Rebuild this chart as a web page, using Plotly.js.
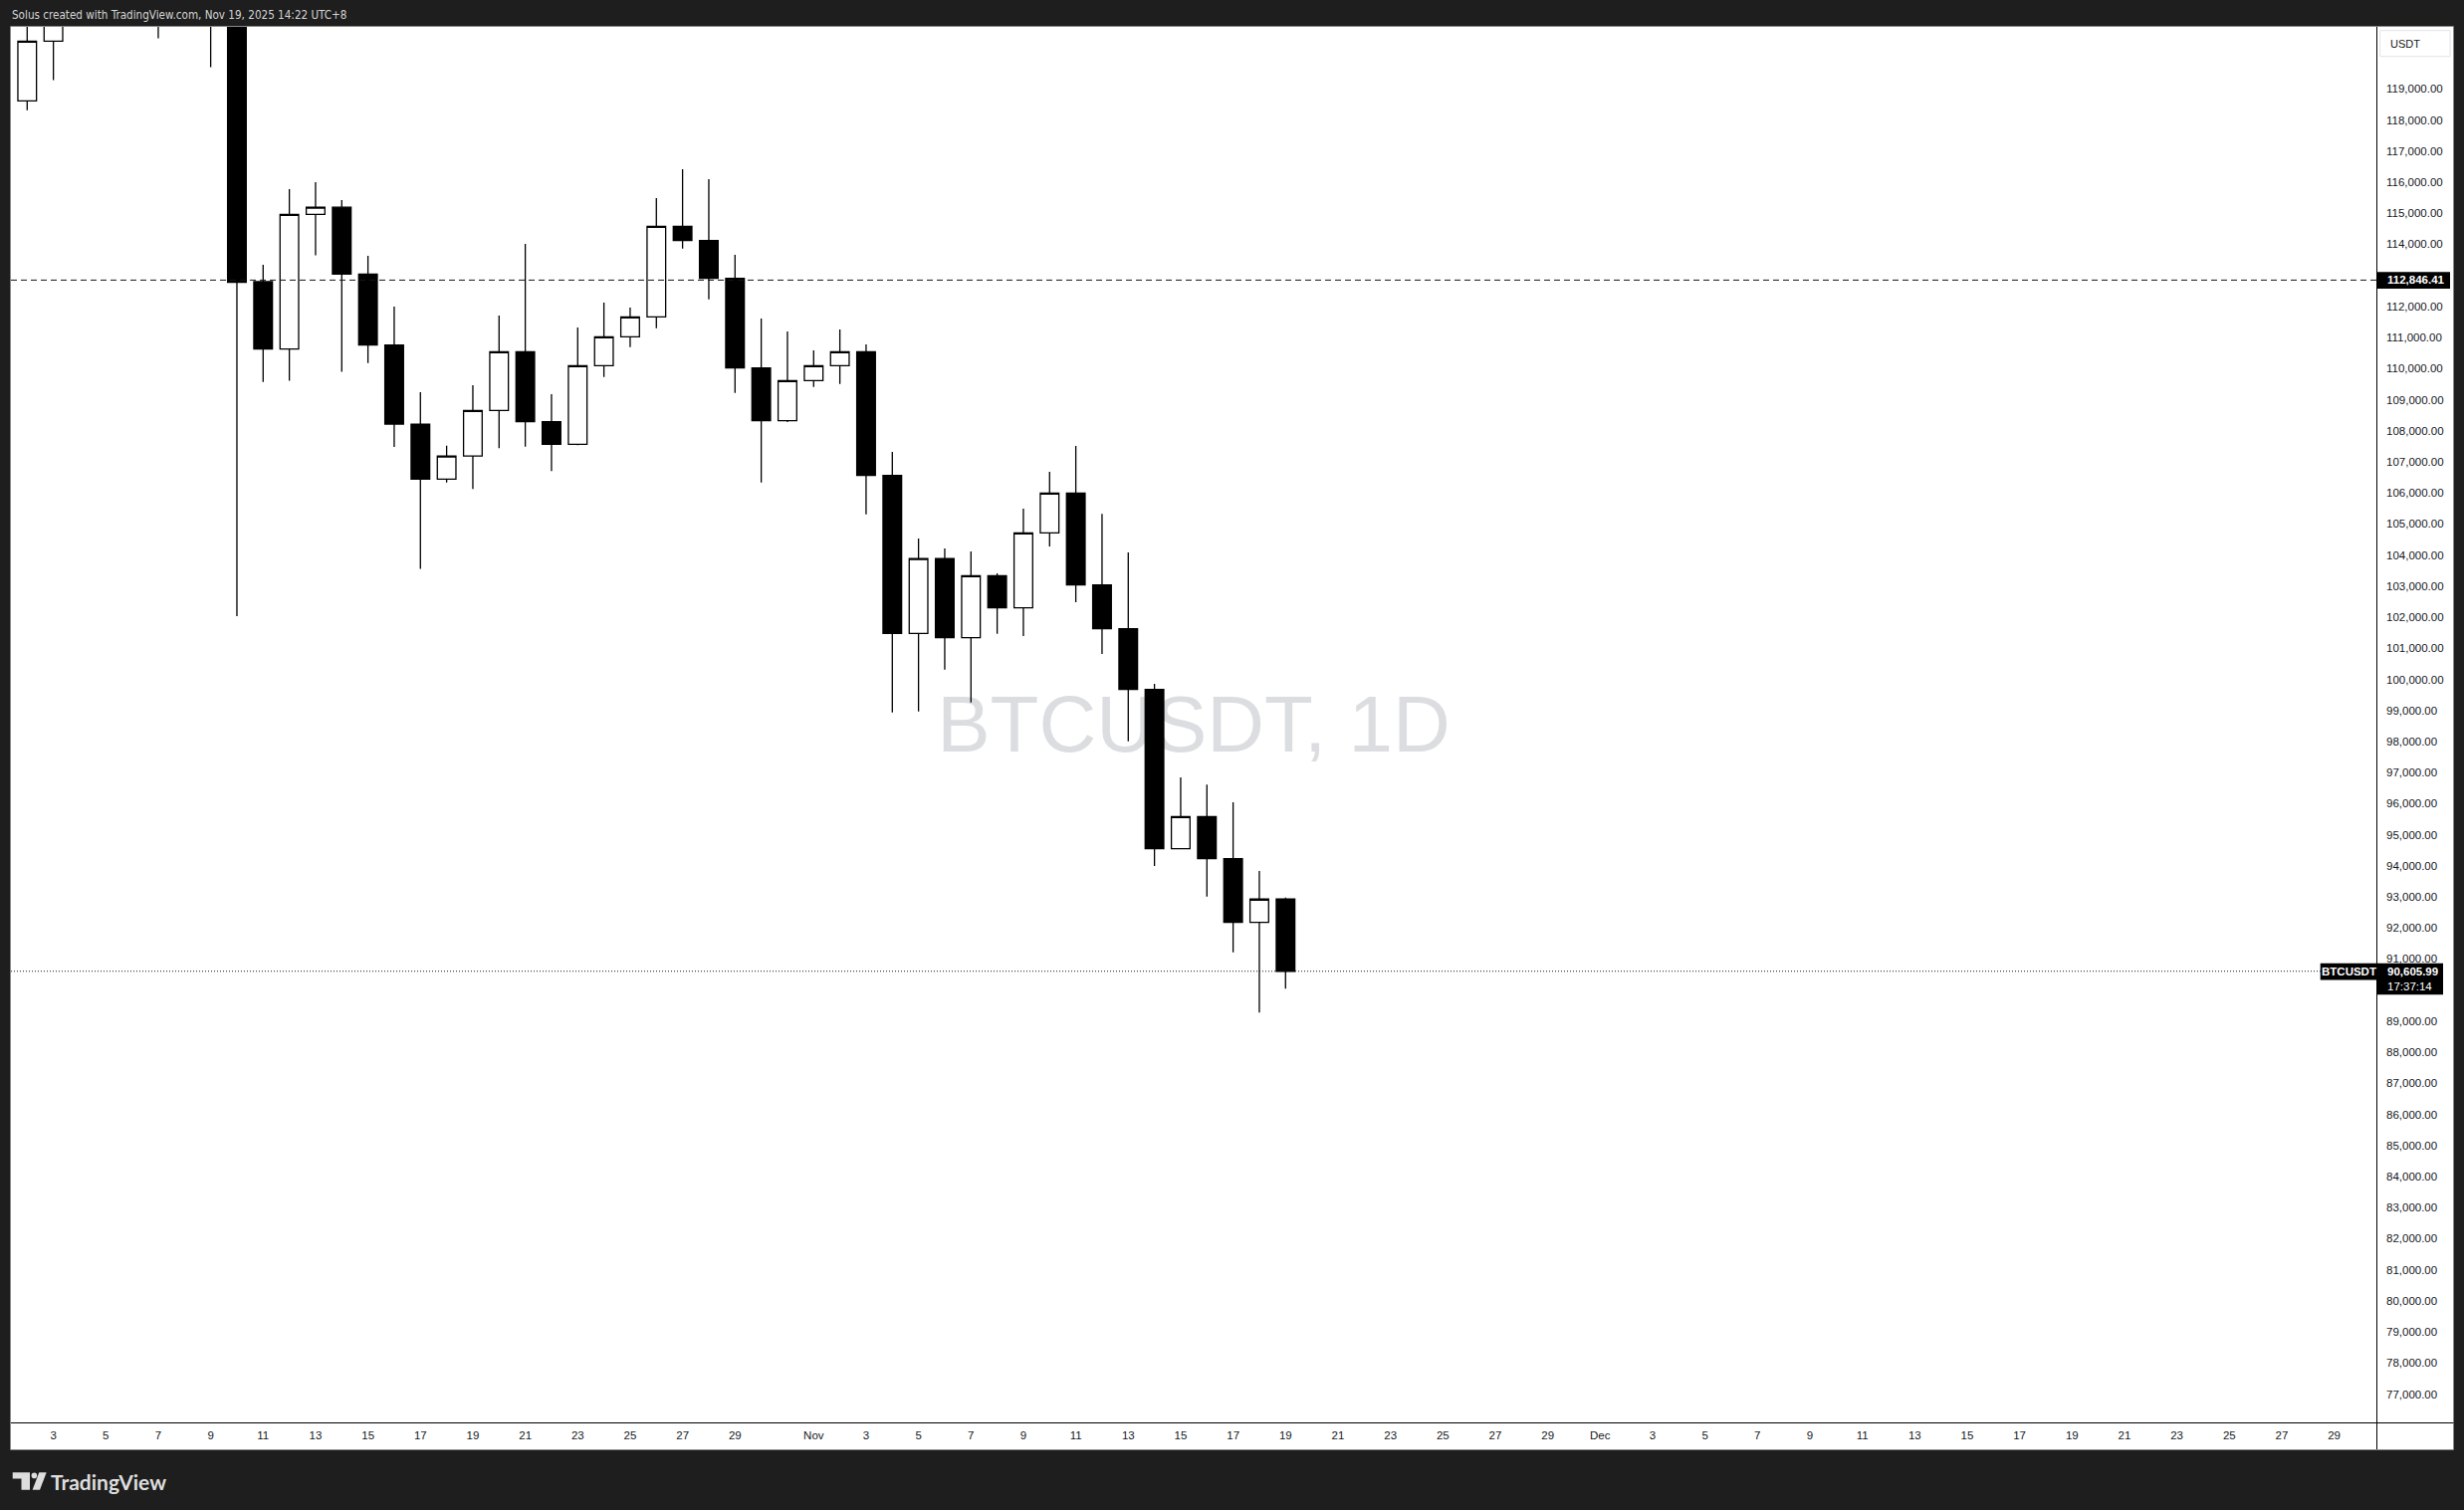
<!DOCTYPE html>
<html>
<head>
<meta charset="utf-8">
<script src="https://cdn.plot.ly/plotly-3.0.1.min.js"></script>
<style>
html,body{margin:0;padding:0;background:#1e1e1e;overflow:hidden;}
#chart{width:2475px;height:1517px;}
</style>
</head>
<body>
<div id="chart"></div>
<script>
// ---------- data (BTCUSDT, 1D) ----------
const dates = ['2025-10-02','2025-10-03','2025-10-04','2025-10-05','2025-10-06','2025-10-07','2025-10-08','2025-10-09','2025-10-10','2025-10-11','2025-10-12','2025-10-13','2025-10-14','2025-10-15','2025-10-16','2025-10-17','2025-10-18','2025-10-19','2025-10-20','2025-10-21','2025-10-22','2025-10-23','2025-10-24','2025-10-25','2025-10-26','2025-10-27','2025-10-28','2025-10-29','2025-10-30','2025-10-31','2025-11-01','2025-11-02','2025-11-03','2025-11-04','2025-11-05','2025-11-06','2025-11-07','2025-11-08','2025-11-09','2025-11-10','2025-11-11','2025-11-12','2025-11-13','2025-11-14','2025-11-15','2025-11-16','2025-11-17','2025-11-18','2025-11-19'];
const openP  = [118611,120533,122232,122391,123482,124658,121332,123306,121662,112795,110630,114963,115191,113038,110758,108211,106440,107186,108653,110543,108289,107564,110095,111023,111664,114579,114118,112901,110018,108321,109614,110095,110543,106559,101479,103890,101338,103337,102299,104714,105995,103035,101626,99672,94548,95584,94227,92177,92928];
const highP  = [121022,123894,122800,125708,126199,125126,124197,123762,122550,113339,115774,115999,115418,113631,111997,109236,107516,109467,111706,114012,109175,111322,112122,111962,115485,116414,116094,113660,111610,111193,110585,111257,110777,107318,104531,104211,104115,103411,105492,106677,107510,105322,104083,99855,96844,96610,96043,93833,92978];
const lowP   = [118310,119281,121500,122000,123084,120623,121066,119700,102033,109566,109605,113644,109896,110175,107478,103551,106337,106123,107439,107487,106700,107532,109730,110691,111299,113862,112228,109217,106335,108279,109409,109506,105310,98936,98968,100313,99255,101466,101392,104275,102481,100815,98007,93993,94530,93010,91216,89275,90044];
const closeP = [120533,122232,122391,123482,124658,121332,123306,121662,112772,110630,114963,115191,113038,110758,108211,106440,107186,108653,110543,108289,107564,110095,111023,111664,114579,114118,112901,110018,108321,109614,110095,110543,106559,101479,103890,101338,103337,102299,104714,105995,103035,101626,99672,94548,95584,94227,92177,92928,90606];

const tickDates = ['2025-10-03','2025-10-05','2025-10-07','2025-10-09','2025-10-11','2025-10-13','2025-10-15','2025-10-17','2025-10-19','2025-10-21','2025-10-23','2025-10-25','2025-10-27','2025-10-29','2025-11-01','2025-11-03','2025-11-05','2025-11-07','2025-11-09','2025-11-11','2025-11-13','2025-11-15','2025-11-17','2025-11-19','2025-11-21','2025-11-23','2025-11-25','2025-11-27','2025-11-29','2025-12-01','2025-12-03','2025-12-05','2025-12-07','2025-12-09','2025-12-11','2025-12-13','2025-12-15','2025-12-17','2025-12-19','2025-12-21','2025-12-23','2025-12-25','2025-12-27','2025-12-29'];
const tickLabels = ['3','5','7','9','11','13','15','17','19','21','23','25','27','29','Nov','3','5','7','9','11','13','15','17','19','21','23','25','27','29','Dec','3','5','7','9','11','13','15','17','19','21','23','25','27','29'];

// price-scale labels (those hidden behind the price tags / currency box are left out)
const priceTicks = [77000,78000,79000,80000,81000,82000,83000,84000,85000,86000,87000,88000,89000,91000,92000,93000,94000,95000,96000,97000,98000,99000,100000,101000,102000,103000,104000,105000,106000,107000,108000,109000,110000,111000,112000,114000,115000,116000,117000,118000,119000];

const markedPrice = 112846.41;
const lastPrice = 90605.99;
const lastPriceText = '90,605.99';
const markedPriceText = '112,846.41';
const countdownText = '17:37:14';
const symbolText = 'BTCUSDT';
const watermarkText = 'BTCUSDT, 1D';
const currencyText = 'USDT';
const headerText = 'Solus created with TradingView.com, Nov 19, 2025 14:22 UTC+8';

// ---------- geometry helpers (decoration only) ----------
const W = 2475, H = 1517;
const L = 11, R = 2387, T = 27, B = 1429;
const px = x => (x - L) / (R - L);
const py = y => (B - y) / (B - T);
const pt = (x, y) => px(x) + ',' + py(y);

const FONT = 'Liberation Sans, Arial, sans-serif';
const DARK = '#131722';
const LOGO = '#dedede';

const trace = {
  type: 'candlestick',
  x: dates, open: openP, high: highP, low: lowP, close: closeP,
  increasing: {line: {color: '#000000', width: 1.3}, fillcolor: '#ffffff'},
  decreasing: {line: {color: '#000000', width: 1.3}, fillcolor: '#000000'},
  whiskerwidth: 0,
  hoverinfo: 'skip',
  showlegend: false
};

const shapes = [
  // white axis panes
  {type:'rect', xref:'paper', yref:'paper', x0:1, x1:px(2464.5), y0:py(1456), y1:py(27), fillcolor:'#ffffff', line:{width:0}, layer:'below'},
  {type:'rect', xref:'paper', yref:'paper', x0:0, x1:px(2464.5), y0:py(1456), y1:py(1429), fillcolor:'#ffffff', line:{width:0}, layer:'below'},
  // grey frame
  {type:'rect', xref:'paper', yref:'paper', x0:px(10.5), x1:px(2464.5), y0:py(1456.5), y1:py(26.5), fillcolor:'rgba(0,0,0,0)', line:{width:1, color:'#8a8a8a'}, layer:'below'},
  // watermark
  {type:'rect', xref:'paper', yref:'paper', x0:0, x1:1, y0:py(1411), y1:py(27), fillcolor:'rgba(0,0,0,0)', line:{width:0}, layer:'below',
   label:{text: watermarkText, textposition:'middle center', font:{family: FONT, size: 80, color:'#dcdde0'}}},
  // separators
  {type:'line', xref:'paper', yref:'paper', x0:px(2387.5), x1:px(2387.5), y0:py(1456), y1:py(27), line:{color:'#000000', width:1}, layer:'above'},
  {type:'line', xref:'paper', yref:'paper', x0:0, x1:px(2464.5), y0:py(1429.5), y1:py(1429.5), line:{color:'#000000', width:1}, layer:'above'},
  // price lines
  {type:'line', xref:'paper', yref:'y', x0:0, x1:1, y0:markedPrice, y1:markedPrice, line:{color:DARK, width:1, dash:'6px,4px'}, layer:'above'},
  {type:'line', xref:'paper', yref:'y', x0:0, x1:px(2331), y0:lastPrice, y1:lastPrice, line:{color:DARK, width:1, dash:'1px,2px'}, layer:'above'},
  // price tags
  {type:'rect', xref:'paper', yref:'y', ysizemode:'pixel', yanchor:markedPrice, x0:1, x1:px(2461), y0:-8.6, y1:8.2, fillcolor:'#000000', line:{width:0}, layer:'above'},
  {type:'rect', xref:'paper', yref:'y', ysizemode:'pixel', yanchor:lastPrice, x0:1, x1:px(2454), y0:-23.4, y1:8.1, fillcolor:'#000000', line:{width:0}, layer:'above'},
  {type:'rect', xref:'paper', yref:'y', ysizemode:'pixel', yanchor:lastPrice, x0:px(2330.7), x1:1, y0:-8.8, y1:8.1, fillcolor:'#000000', line:{width:0}, layer:'above'},
  // currency box
  {type:'rect', xref:'paper', yref:'paper', x0:px(2390.7), x1:px(2461), y0:py(56.7), y1:py(30.7), fillcolor:'#ffffff', line:{width:1, color:'#e0e3eb'}, layer:'above'},
  // TradingView logo mark
  {type:'path', xref:'paper', yref:'paper', path:'M'+pt(12.7,1479.3)+' L'+pt(30,1479.3)+' L'+pt(30,1496.7)+' L'+pt(21.5,1496.7)+' L'+pt(21.5,1485.6)+' L'+pt(12.7,1485.6)+' Z', fillcolor:LOGO, line:{width:0}, layer:'above'},
  {type:'circle', xref:'paper', yref:'paper', x0:px(31.6), x1:px(37.2), y0:py(1485.2), y1:py(1479.6), fillcolor:LOGO, line:{width:0}, layer:'above'},
  {type:'path', xref:'paper', yref:'paper', path:'M'+pt(39.3,1479.3)+' L'+pt(46.7,1479.3)+' L'+pt(40,1496.7)+' L'+pt(32.6,1496.7)+' Z', fillcolor:LOGO, line:{width:0}, layer:'above'}
];

const annotations = [
  {text: headerText, xref:'paper', yref:'paper', x:px(9.5), y:py(14.5), xanchor:'left', yanchor:'middle', showarrow:false,
   font:{family:'Liberation Sans Narrow, DejaVu Sans Condensed, Arial Narrow, sans-serif', size:11.6, color:'#d4d4d4'}},
  {text: markedPriceText, xref:'paper', yref:'y', x:px(2396), y:markedPrice, xanchor:'left', yanchor:'middle', showarrow:false,
   font:{family:FONT, size:11.5, color:'#ffffff', weight:'bold'}},
  {text: lastPriceText, xref:'paper', yref:'y', x:px(2396), y:lastPrice, xanchor:'left', yanchor:'middle', showarrow:false,
   font:{family:FONT, size:11.5, color:'#ffffff', weight:'bold'}},
  {text: countdownText, xref:'paper', yref:'y', x:px(2396), y:lastPrice, yshift:-15, xanchor:'left', yanchor:'middle', showarrow:false,
   font:{family:FONT, size:11.5, color:'#ffffff'}},
  {text: symbolText, xref:'paper', yref:'y', x:px(2359), y:lastPrice, xanchor:'center', yanchor:'middle', showarrow:false,
   font:{family:FONT, size:11.5, color:'#ffffff', weight:'bold'}},
  {text: currencyText, xref:'paper', yref:'paper', x:px(2399), y:py(43.7), xanchor:'left', yanchor:'middle', showarrow:false,
   font:{family:FONT, size:11, color:DARK}},
  {text: 'TradingView', xref:'paper', yref:'paper', x:px(48.5), y:py(1488), xanchor:'left', yanchor:'middle', showarrow:false,
   font:{family:'Lato, Inter, sans-serif', size:21, color:LOGO, weight:'bold'}}
];

const layout = {
  width: W, height: H,
  margin: {l: L, r: W - R, t: T, b: H - B, pad: 0},
  paper_bgcolor: '#1e1e1e',
  plot_bgcolor: '#ffffff',
  showlegend: false,
  boxgap: 0.29, boxgroupgap: 0,
  xaxis: {
    type: 'date',
    range: ['2025-10-01 09:09', '2025-12-30 14:38'],
    rangeslider: {visible: false},
    tickmode: 'array', tickvals: tickDates, ticktext: tickLabels,
    showgrid: false, zeroline: false, showline: false, ticks: '',
    ticklabelstandoff: 4,
    tickfont: {family: FONT, size: 11.5, color: DARK},
    fixedrange: true
  },
  yaxis: {
    side: 'right',
    range: [76088.8, 120994.8],
    tickmode: 'array', tickvals: priceTicks,
    tickformat: ',.2f',
    showgrid: false, zeroline: false, showline: false, ticks: '',
    ticklabelstandoff: 9,
    tickfont: {family: FONT, size: 11.5, color: DARK},
    fixedrange: true
  },
  shapes: shapes,
  annotations: annotations
};

Plotly.newPlot('chart', [trace], layout, {staticPlot: true, displayModeBar: false});
</script>
</body>
</html>
